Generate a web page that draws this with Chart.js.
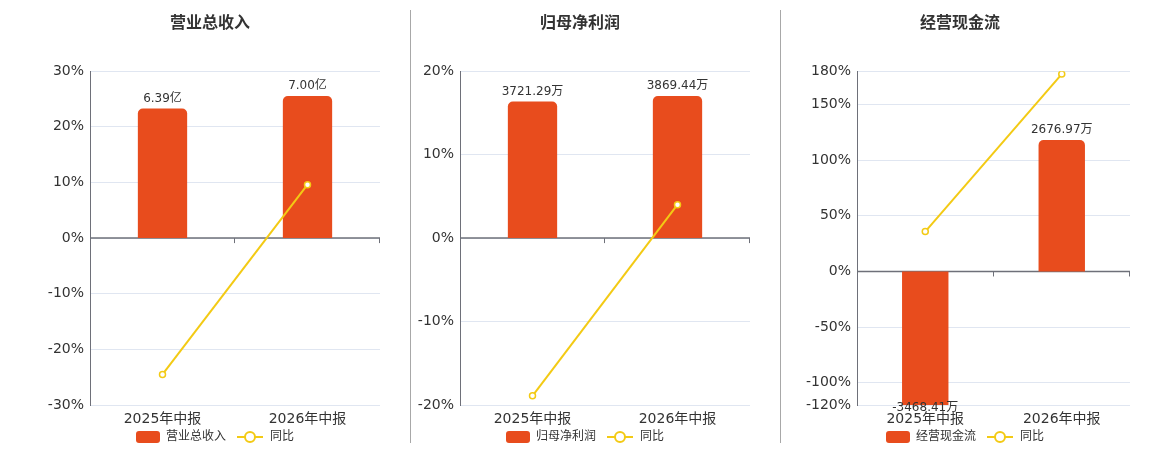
<!DOCTYPE html>
<html>
<head>
<meta charset="utf-8">
<script src="https://cdn.jsdelivr.net/npm/chart.js@4.4.1/dist/chart.umd.min.js"></script>
<style>
  body { margin: 0; background: #fff; width: 1160px; height: 450px; position: relative; overflow: hidden; }
  canvas { position: absolute; top: 0; }
  .sep { position: absolute; top: 10px; height: 433px; width: 1px; background: #a8a8a8; }
</style>
</head>
<body>
<canvas id="c1" width="350" height="453" style="left:40px"></canvas>
<canvas id="c2" width="350" height="453" style="left:410px"></canvas>
<canvas id="c3" width="350" height="453" style="left:790px"></canvas>
<div class="sep" style="left:410px"></div>
<div class="sep" style="left:780px"></div>

<script>
// Data
const categories = ['2025年中报', '2026年中报'];

const revenueValues = [6.39, 7.00];       // 亿
const revenueYoy = [-24.5, 9.6];          // %
const revenueTicks = [-30, -20, -10, 0, 10, 20, 30];

const profitValues = [3721.29, 3869.44];  // 万
const profitYoy = [-18.9, 4.0];
const profitTicks = [-20, -10, 0, 10, 20];

const cashValues = [-3468.41, 2676.97];   // 万
const cashYoy = [35.9, 177.4];
const cashTicks = [-120, -100, -50, 0, 50, 100, 150, 180];

const BAR_COLOR = '#e84c1d';
const LINE_COLOR = '#f3ca14';
const TEXT_COLOR = '#333';

Chart.defaults.font.family = "'DejaVu Sans', 'Noto Sans CJK SC', sans-serif";
Chart.defaults.color = TEXT_COLOR;

// Legend icons (bar box and line with circle)
function makeBarIcon() {
  const c = document.createElement('canvas');
  c.width = 34; c.height = 14;
  const ctx = c.getContext('2d');
  ctx.fillStyle = BAR_COLOR;
  ctx.beginPath();
  ctx.roundRect(10, 1, 24, 12, 3);
  ctx.fill();
  return c;
}

function makeLineIcon() {
  const c = document.createElement('canvas');
  c.width = 34; c.height = 14;
  const ctx = c.getContext('2d');
  ctx.strokeStyle = LINE_COLOR;
  ctx.lineWidth = 2;
  ctx.beginPath();
  ctx.moveTo(7, 7);
  ctx.lineTo(33, 7);
  ctx.stroke();
  ctx.beginPath();
  ctx.arc(20, 7, 5, 0, Math.PI * 2);
  ctx.fillStyle = '#fff';
  ctx.fill();
  ctx.stroke();
  return c;
}

const barIcon = makeBarIcon();
const lineIcon = makeLineIcon();

// zero line with category boundary ticks, like the reference axis
const zeroAxisPlugin = {
  id: 'zeroAxis',
  beforeDatasetsDraw(chart) {
    const { ctx, chartArea } = chart;
    const y0 = chart.scales.y.getPixelForValue(0);
    const x = chart.scales.x;
    const n = chart.data.labels.length;
    ctx.save();
    ctx.strokeStyle = '#6e7079';
    ctx.lineWidth = 1.5;
    ctx.beginPath();
    ctx.moveTo(chartArea.left, y0);
    ctx.lineTo(chartArea.right, y0);
    ctx.stroke();
    ctx.lineWidth = 1;
    for (let i = 1; i <= n; i++) {
      const px = Math.round(x.left + i * (x.width / n)) - 0.5;
      ctx.beginPath();
      ctx.moveTo(px, y0);
      ctx.lineTo(px, y0 + 5);
      ctx.stroke();
    }
    ctx.restore();
  }
};

// value labels on the bars
const barLabelPlugin = {
  id: 'barLabels',
  afterDatasetsDraw(chart, args, opts) {
    const { ctx, chartArea } = chart;
    const meta = chart.getDatasetMeta(0);
    const ds = chart.data.datasets[0];
    ctx.save();
    ctx.font = "12px 'DejaVu Sans', 'Noto Sans CJK SC', sans-serif";
    ctx.fillStyle = TEXT_COLOR;
    ctx.textAlign = 'center';
    ctx.textBaseline = 'middle';
    meta.data.forEach((bar, i) => {
      const v = ds.data[i];
      const text = v.toFixed(2) + opts.unit;
      let y;
      if (v >= 0) {
        y = bar.y - 10;
      } else {
        y = Math.min(bar.y, chartArea.bottom) + 3;
      }
      ctx.fillText(text, bar.x, y);
    });
    ctx.restore();
  }
};

function makeChart(id, title, barName, values, unit, yoy, ticks, yWidth, padRight) {
  const yMin = ticks[0];
  const yMax = ticks[ticks.length - 1];
  const barMax = Math.max(...values.map(Math.abs)) * 1.175;
  const barMin = barMax * yMin / yMax;

  return new Chart(document.getElementById(id), {
    type: 'bar',
    data: {
      labels: categories,
      datasets: [
        {
          type: 'bar',
          label: barName,
          data: values,
          yAxisID: 'y1',
          backgroundColor: BAR_COLOR,
          borderRadius: 5,
          borderSkipped: 'start',
          categoryPercentage: 1,
          barPercentage: 0.34,
          order: 1
        },
        {
          type: 'line',
          label: '同比',
          data: yoy,
          yAxisID: 'y',
          borderColor: LINE_COLOR,
          backgroundColor: '#fff',
          borderWidth: 2,
          pointRadius: 3,
          pointBorderWidth: 1.5,
          pointBorderColor: LINE_COLOR,
          pointBackgroundColor: '#fff',
          tension: 0,
          order: 0
        }
      ]
    },
    options: {
      responsive: false,
      animation: false,
      layout: { padding: { left: 0, right: padRight, top: 0, bottom: 0 } },
      plugins: {
        title: {
          display: true,
          text: title,
          color: TEXT_COLOR,
          font: { size: 16, weight: 'bold' },
          padding: { top: 14, bottom: 38 }
        },
        legend: {
          position: 'bottom',
          labels: {
            usePointStyle: true,
            pointStyleWidth: 34,
            padding: 4,
            color: TEXT_COLOR,
            font: { size: 12 },
            generateLabels: (chart) => chart.data.datasets.map((ds, i) => ({
              text: ds.label,
              pointStyle: i === 0 ? barIcon : lineIcon,
              fillStyle: 'transparent',
              strokeStyle: 'transparent',
              lineWidth: 0,
              hidden: false,
              datasetIndex: i,
              fontColor: TEXT_COLOR
            }))
          }
        },
        tooltip: { enabled: false },
        barLabels: { unit: unit }
      },
      scales: {
        x: {
          grid: { display: false, drawTicks: false },
          border: { display: false },
          ticks: { color: TEXT_COLOR, font: { size: 14 }, padding: 6, maxRotation: 0 },
          afterFit: (scale) => { scale.height = 22; }
        },
        y: {
          position: 'left',
          min: yMin,
          max: yMax,
          afterBuildTicks: (axis) => { axis.ticks = ticks.map(v => ({ value: v })); },
          grid: { color: '#e0e6f1', drawTicks: false },
          border: { display: true, color: '#6e7079', width: 1 },
          ticks: {
            color: TEXT_COLOR,
            font: { size: 14 },
            padding: 6,
            callback: (v) => v + '%'
          },
          afterFit: (scale) => { scale.width = yWidth; }
        },
        y1: {
          display: false,
          min: barMin,
          max: barMax
        }
      }
    },
    plugins: [zeroAxisPlugin, barLabelPlugin]
  });
}

makeChart('c1', '营业总收入', '营业总收入', revenueValues, '亿', revenueYoy, revenueTicks, 50, 10);
makeChart('c2', '归母净利润', '归母净利润', profitValues, '万', profitYoy, profitTicks, 50, 10);
makeChart('c3', '经营现金流', '经营现金流', cashValues, '万', cashYoy, cashTicks, 67, 10);
</script>
</body>
</html>
